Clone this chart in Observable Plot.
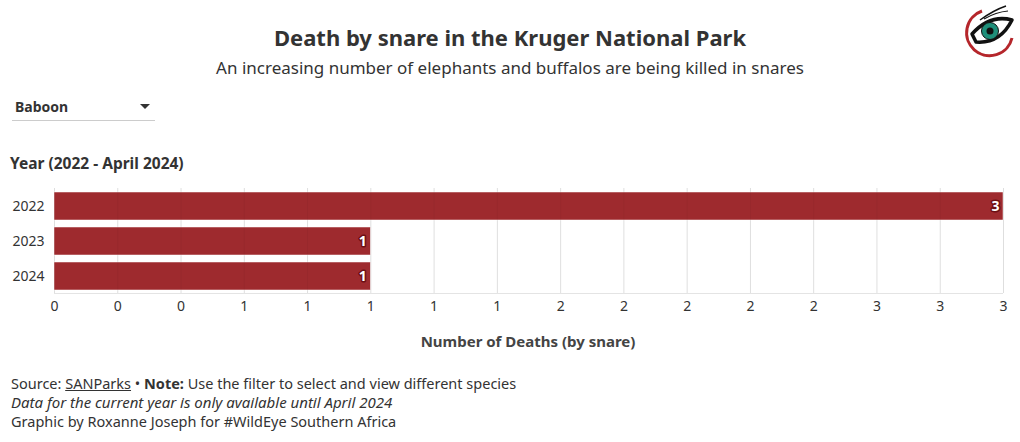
<!DOCTYPE html>
<html>
<head>
<meta charset="utf-8">
<script src="https://cdn.jsdelivr.net/npm/d3@7"></script>
<script src="https://cdn.jsdelivr.net/npm/@observablehq/plot@0.6"></script>
<style>
  html, body { margin: 0; padding: 0; background: #fff; }
  body { width: 1020px; height: 442px; position: relative; overflow: hidden; font-family: "Noto Sans", Roboto, sans-serif; color: #333; }
  .abs { position: absolute; white-space: nowrap; }
  #title { left: 0; width: 1020px; top: 22px; text-align: center; font-size: 22px; font-weight: 700; color: #333; line-height: 30px; }
  #subtitle { left: 0; width: 1020px; top: 57px; text-align: center; font-size: 17px; color: #333; line-height: 22px; }
  #dropdown { left: 12px; top: 96px; width: 143px; height: 24px; border-bottom: 1px solid #ccc; }
  #dropdown span { position: absolute; left: 3px; top: 1px; font-size: 14px; font-weight: 700; color: #333; }
  #dropdown .arrow { position: absolute; left: 128px; top: 8px; width: 0; height: 0; border-left: 5px solid transparent; border-right: 5px solid transparent; border-top: 5px solid #333; }
  #ylabel { left: 10px; top: 152px; font-size: 15.5px; font-weight: 700; color: #333; }
  #xlabel { left: 0; width: 1056px; top: 331px; text-align: center; font-size: 15px; font-weight: 700; color: #444; }
  #footer { left: 11px; top: 374px; font-size: 14px; line-height: 19px; color: #333; }
  #footer .l1 { font-size: 14.5px; }
  #footer .l2 { font-size: 15px; }
  #footer .l3 { font-size: 14.5px; }
  #footer u { text-decoration: underline; }
  #chart { left: 0; top: 180px; }
  #logo { left: 960px; top: 2px; }
</style>
</head>
<body>
<div id="title" class="abs">Death by snare in the Kruger National Park</div>
<div id="subtitle" class="abs">An increasing number of elephants and buffalos are being killed in snares</div>
<div id="dropdown" class="abs"><span>Baboon</span><div class="arrow"></div></div>
<div id="ylabel" class="abs">Year (2022 - April 2024)</div>
<div id="chart" class="abs"></div>
<div id="xlabel" class="abs">Number of Deaths (by snare)</div>
<div id="footer" class="abs">
  <div class="l1">Source: <u>SANParks</u> • <b>Note:</b> Use the filter to select and view different species</div>
  <div class="l2"><i>Data for the current year is only available until April 2024</i></div>
  <div class="l3">Graphic by Roxanne Joseph for #WildEye Southern Africa</div>
</div>
<svg id="logo" class="abs" width="58" height="58" viewBox="0 0 58 58">
  <path d="M 22 9 A 23 23 0 1 0 52 36" fill="none" stroke="#b5262b" stroke-width="3"/>
  <path d="M 12 32 Q 30 12 52 18 Q 40 42 16 40 Z" fill="#fff" stroke="#111" stroke-width="3.5" stroke-linejoin="round"/>
  <circle cx="30" cy="29" r="8.5" fill="#1f8f7a" stroke="#111" stroke-width="1"/>
  <circle cx="30" cy="29" r="3.5" fill="#111"/>
  <path d="M 20 18 Q 34 8 46 4" fill="none" stroke="#111" stroke-width="1.5"/>
  <path d="M 24 17 Q 36 10 48 9" fill="none" stroke="#111" stroke-width="1.2"/>
</svg>
<script>
const years = ["2022", "2023", "2024"];
const deaths = [3, 1, 1];
const xTicks = [0, 0.2, 0.4, 0.6, 0.8, 1, 1.2, 1.4, 1.6, 1.8, 2, 2.2, 2.4, 2.6, 2.8, 3];

const data = years.map((y, i) => ({year: y, deaths: deaths[i]}));

const chart = Plot.plot({
  width: 1020,
  height: 143,
  marginLeft: 54,
  marginRight: 17,
  marginTop: 8,
  marginBottom: 30,
  style: {fontFamily: "'Noto Sans', Roboto, sans-serif", fontSize: "14px", color: "#333", background: "transparent"},
  x: {domain: [0, 3], ticks: xTicks, tickFormat: d3.format(".0f"), tickSize: 0, tickPadding: 8, label: null},
  y: {domain: years, paddingInner: 0.2, paddingOuter: 0.1, tickSize: 0, tickPadding: 10, label: null},
  marks: [
    Plot.ruleX(xTicks, {stroke: "#e8e8e8", strokeWidth: 1}),
    Plot.barX(data, {x: "deaths", y: "year", fill: "#9e2a2e", stroke: "#fff", strokeWidth: 0.5}),
    Plot.ruleX(xTicks, {stroke: "#000", strokeOpacity: 0.04, strokeWidth: 1}),
    Plot.text(data, {x: "deaths", y: "year", text: d => String(d.deaths), textAnchor: "end", dx: -4, fill: "#fff", stroke: "#6e0f14", strokeWidth: 3, fontWeight: 700, fontSize: 14})
  ]
});
document.getElementById("chart").appendChild(chart);

// bottom baseline of the plot frame
const svg = d3.select(chart);
svg.append("line").attr("x1", 54).attr("x2", 1003).attr("y1", 113.5).attr("y2", 113.5).attr("stroke", "#e4e4e4");
</script>
</body>
</html>
